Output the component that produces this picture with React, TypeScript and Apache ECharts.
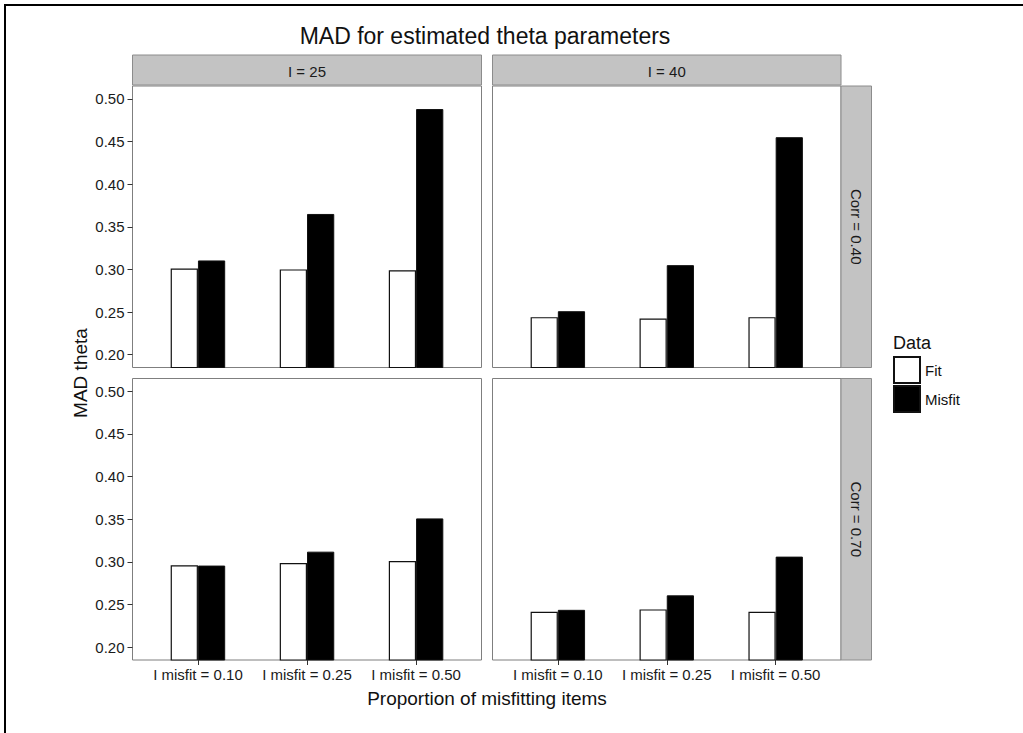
import React, { useEffect, useRef } from "react";
import * as echarts from "echarts";

const title = "MAD for estimated theta parameters";
const categories = ["I misfit = 0.10", "I misfit = 0.25", "I misfit = 0.50"];
const columnLabels = ["I = 25", "I = 40"];
const rowLabels = ["Corr = 0.40", "Corr = 0.70"];
const yTicks = [0.2, 0.25, 0.3, 0.35, 0.4, 0.45, 0.5];
const seriesNames = ["Fit", "Misfit"];

// panel order: [row][col]
const fitCorr40I25 = [0.301, 0.3, 0.299];
const misfitCorr40I25 = [0.3105, 0.365, 0.488];
const fitCorr40I40 = [0.244, 0.2425, 0.244];
const misfitCorr40I40 = [0.251, 0.305, 0.455];
const fitCorr70I25 = [0.296, 0.2988, 0.301];
const misfitCorr70I25 = [0.2957, 0.312, 0.351];
const fitCorr70I40 = [0.2415, 0.2443, 0.2415];
const misfitCorr70I40 = [0.2438, 0.2608, 0.3062];

const panelData = [
  [
    [fitCorr40I25, misfitCorr40I25],
    [fitCorr40I40, misfitCorr40I40],
  ],
  [
    [fitCorr70I25, misfitCorr70I25],
    [fitCorr70I40, misfitCorr70I40],
  ],
];

export default function App() {
  const ref = useRef<HTMLDivElement>(null);
  useEffect(() => {
    if (!ref.current) return;
    const chart = echarts.init(ref.current, undefined, { renderer: "svg" });

    const colLeft = [132.5, 492.5];
    const colWidth = [349, 348.5];
    const rowTop = [86, 378.5];
    const panelH = 281.5;
    const stripTop = 55;
    const stripH = 30;
    const stripRightX = colLeft[1] + colWidth[1];
    const stripW = 30.5;
    const font = "Liberation Sans, Arial, Helvetica, sans-serif";
    const textColor = "#1a1a1a";

    const grids: any[] = [];
    const xAxes: any[] = [];
    const yAxes: any[] = [];
    const series: any[] = [];
    let idx = 0;
    for (let r = 0; r < 2; r++) {
      for (let c = 0; c < 2; c++) {
        grids.push({
          left: colLeft[c],
          top: rowTop[r],
          width: colWidth[c],
          height: panelH,
          show: true,
          borderColor: "#7f7f7f",
          borderWidth: 1,
          backgroundColor: "#ffffff",
        });
        const bottom = r === 1;
        xAxes.push({
          type: "value",
          gridIndex: idx,
          min: -0.6,
          max: 2.6,
          position: "bottom",
          axisLine: { show: false, onZero: false },
          splitLine: { show: false },
          axisTick: {
            show: bottom,
            customValues: [0, 1, 2],
            length: 5,
            lineStyle: { color: "#333333", width: 1 },
          },
          axisLabel: {
            show: bottom,
            customValues: [0, 1, 2],
            formatter: (v: number) => categories[Math.round(v)] ?? "",
            color: textColor,
            fontSize: 15,
            fontFamily: font,
            margin: 7,
          },
        });
        const left = c === 0;
        yAxes.push({
          type: "value",
          gridIndex: idx,
          min: 0.185,
          max: 0.515,
          position: "left",
          axisLine: { show: false, onZero: false },
          splitLine: { show: false },
          axisTick: {
            show: left,
            customValues: yTicks,
            length: 5,
            lineStyle: { color: "#333333", width: 1 },
          },
          axisLabel: {
            show: left,
            customValues: yTicks,
            formatter: (v: number) => v.toFixed(2),
            color: textColor,
            fontSize: 15,
            fontFamily: font,
            margin: 8,
          },
        });
        const [fit, mis] = panelData[r][c];
        const bw = (colWidth[c] / 3.2) * 0.25;
        series.push({
          type: "bar",
          name: seriesNames[0],
          xAxisIndex: idx,
          yAxisIndex: idx,
          data: fit.map((v, i) => [i, v]),
          barWidth: bw,
          barGap: "0%",
          itemStyle: { color: "#ffffff", borderColor: "#111111", borderWidth: 1.2 },
          emphasis: { disabled: true },
        });
        series.push({
          type: "bar",
          name: seriesNames[1],
          xAxisIndex: idx,
          yAxisIndex: idx,
          data: mis.map((v, i) => [i, v]),
          barWidth: bw,
          barGap: "0%",
          itemStyle: { color: "#000000", borderColor: "#111111", borderWidth: 1 },
          emphasis: { disabled: true },
        });
        idx++;
      }
    }

    const graphics: any[] = [
      // outer frame (top and left)
      { type: "line", shape: { x1: 4, y1: 5, x2: 1023, y2: 5 }, style: { stroke: "#000", lineWidth: 2 } },
      { type: "line", shape: { x1: 5, y1: 4, x2: 5, y2: 733 }, style: { stroke: "#000", lineWidth: 2 } },
      {
        type: "text",
        x: 485,
        y: 36,
        style: { text: title, font: `23px ${font}`, fill: "#111", align: "center", verticalAlign: "middle" },
      },
    ];
    for (let c = 0; c < 2; c++) {
      graphics.push({
        type: "rect",
        shape: { x: colLeft[c], y: stripTop, width: colWidth[c], height: stripH },
        style: { fill: "#c3c3c3", stroke: "#8c8c8c", lineWidth: 1 },
      });
      graphics.push({
        type: "text",
        x: colLeft[c] + colWidth[c] / 2,
        y: stripTop + stripH / 2 + 1,
        style: { text: columnLabels[c], font: `15px ${font}`, fill: "#1a1a1a", align: "center", verticalAlign: "middle" },
      });
    }
    for (let r = 0; r < 2; r++) {
      graphics.push({
        type: "rect",
        shape: { x: stripRightX, y: rowTop[r], width: stripW, height: panelH },
        style: { fill: "#c3c3c3", stroke: "#8c8c8c", lineWidth: 1 },
      });
      graphics.push({
        type: "text",
        x: stripRightX + stripW / 2,
        y: rowTop[r] + panelH / 2,
        rotation: -Math.PI / 2,
        style: { text: rowLabels[r], font: `15px ${font}`, fill: "#1a1a1a", align: "center", verticalAlign: "middle" },
      });
    }
    graphics.push({
      type: "text",
      x: 80,
      y: 373,
      rotation: Math.PI / 2,
      style: { text: "MAD theta", font: `19px ${font}`, fill: "#111", align: "center", verticalAlign: "middle" },
    });
    graphics.push({
      type: "text",
      x: 487,
      y: 698,
      style: { text: "Proportion of misfitting items", font: `19px ${font}`, fill: "#111", align: "center", verticalAlign: "middle" },
    });
    graphics.push({
      type: "text",
      x: 893,
      y: 343,
      style: { text: "Data", font: `18px ${font}`, fill: "#111", align: "left", verticalAlign: "middle" },
    });

    chart.setOption({
      animation: false,
      backgroundColor: "#ffffff",
      grid: grids,
      xAxis: xAxes,
      yAxis: yAxes,
      series,
      legend: {
        data: seriesNames,
        orient: "vertical",
        left: 893,
        top: 356,
        itemWidth: 26,
        itemHeight: 26,
        itemGap: 1,
        icon: "rect",
        selectedMode: false,
        textStyle: { fontSize: 15, fontFamily: font, color: "#111" },
        padding: 0,
      },
      graphic: graphics,
    });
    return () => chart.dispose();
  }, []);
  return (
    <div
      ref={ref}
      style={{ position: "absolute", left: 0, top: 0, width: 1023, height: 733 }}
    />
  );
}
